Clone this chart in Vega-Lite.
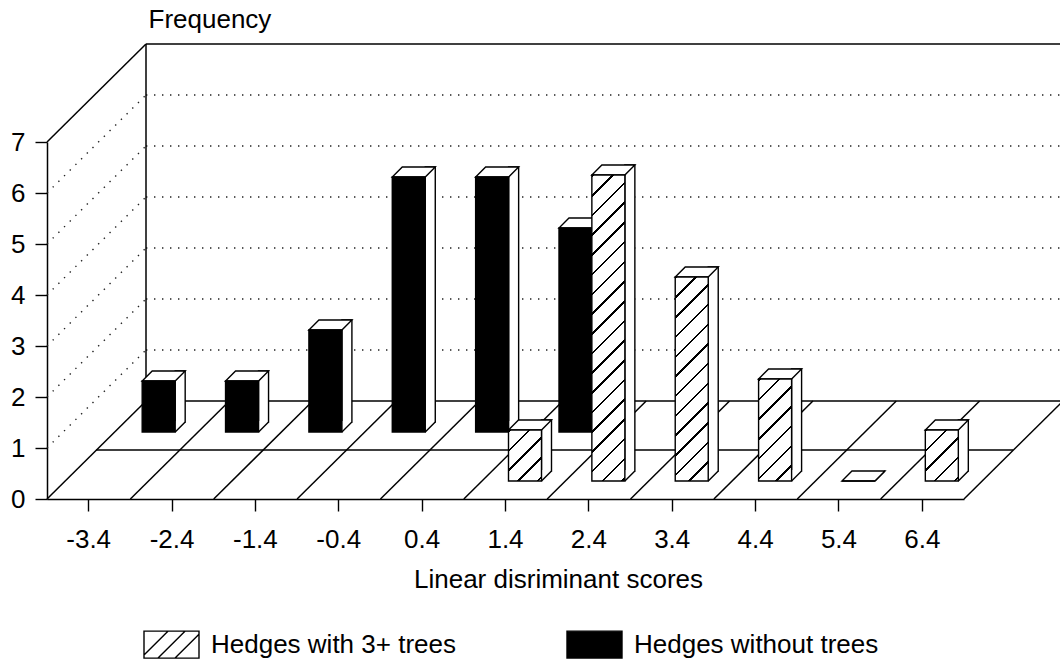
{
  "$schema": "https://vega.github.io/schema/vega-lite/v6.json",
  "width": 917,
  "height": 357,
  "autosize": {"type": "none"},
  "padding": {"left": 47, "top": 142, "right": 96, "bottom": 171},
  "background": "white",
  "config": {"view": {"stroke": null}, "font": "Liberation Sans"},
  "params": [
    {"name": "hatchStops", "value": [
      {"offset": 0, "color": "#000"}, {"offset": 0.0065, "color": "#000"}, {"offset": 0.0065, "color": "#fff"}, {"offset": 0.05, "color": "#fff"},
      {"offset": 0.05, "color": "#000"}, {"offset": 0.0565, "color": "#000"}, {"offset": 0.0565, "color": "#fff"}, {"offset": 0.1, "color": "#fff"},
      {"offset": 0.1, "color": "#000"}, {"offset": 0.1065, "color": "#000"}, {"offset": 0.1065, "color": "#fff"}, {"offset": 0.15, "color": "#fff"},
      {"offset": 0.15, "color": "#000"}, {"offset": 0.1565, "color": "#000"}, {"offset": 0.1565, "color": "#fff"}, {"offset": 0.2, "color": "#fff"},
      {"offset": 0.2, "color": "#000"}, {"offset": 0.2065, "color": "#000"}, {"offset": 0.2065, "color": "#fff"}, {"offset": 0.25, "color": "#fff"},
      {"offset": 0.25, "color": "#000"}, {"offset": 0.2565, "color": "#000"}, {"offset": 0.2565, "color": "#fff"}, {"offset": 0.3, "color": "#fff"},
      {"offset": 0.3, "color": "#000"}, {"offset": 0.3065, "color": "#000"}, {"offset": 0.3065, "color": "#fff"}, {"offset": 0.35, "color": "#fff"},
      {"offset": 0.35, "color": "#000"}, {"offset": 0.3565, "color": "#000"}, {"offset": 0.3565, "color": "#fff"}, {"offset": 0.4, "color": "#fff"},
      {"offset": 0.4, "color": "#000"}, {"offset": 0.4065, "color": "#000"}, {"offset": 0.4065, "color": "#fff"}, {"offset": 0.45, "color": "#fff"},
      {"offset": 0.45, "color": "#000"}, {"offset": 0.4565, "color": "#000"}, {"offset": 0.4565, "color": "#fff"}, {"offset": 0.5, "color": "#fff"},
      {"offset": 0.5, "color": "#000"}, {"offset": 0.5065, "color": "#000"}, {"offset": 0.5065, "color": "#fff"}, {"offset": 0.55, "color": "#fff"},
      {"offset": 0.55, "color": "#000"}, {"offset": 0.5565, "color": "#000"}, {"offset": 0.5565, "color": "#fff"}, {"offset": 0.6, "color": "#fff"},
      {"offset": 0.6, "color": "#000"}, {"offset": 0.6065, "color": "#000"}, {"offset": 0.6065, "color": "#fff"}, {"offset": 0.65, "color": "#fff"},
      {"offset": 0.65, "color": "#000"}, {"offset": 0.6565, "color": "#000"}, {"offset": 0.6565, "color": "#fff"}, {"offset": 0.7, "color": "#fff"},
      {"offset": 0.7, "color": "#000"}, {"offset": 0.7065, "color": "#000"}, {"offset": 0.7065, "color": "#fff"}, {"offset": 0.75, "color": "#fff"},
      {"offset": 0.75, "color": "#000"}, {"offset": 0.7565, "color": "#000"}, {"offset": 0.7565, "color": "#fff"}, {"offset": 0.8, "color": "#fff"},
      {"offset": 0.8, "color": "#000"}, {"offset": 0.8065, "color": "#000"}, {"offset": 0.8065, "color": "#fff"}, {"offset": 0.85, "color": "#fff"},
      {"offset": 0.85, "color": "#000"}, {"offset": 0.8565, "color": "#000"}, {"offset": 0.8565, "color": "#fff"}, {"offset": 0.9, "color": "#fff"},
      {"offset": 0.9, "color": "#000"}, {"offset": 0.9065, "color": "#000"}, {"offset": 0.9065, "color": "#fff"}, {"offset": 0.95, "color": "#fff"},
      {"offset": 0.95, "color": "#000"}, {"offset": 0.9565, "color": "#000"}, {"offset": 0.9565, "color": "#fff"}, {"offset": 1, "color": "#fff"}
    ]}
  ],
  "datasets": {
    "bars": [
      {"cat": "-3.4", "series": "Hedges without trees", "freq": 1},
      {"cat": "-2.4", "series": "Hedges without trees", "freq": 1},
      {"cat": "-1.4", "series": "Hedges without trees", "freq": 2},
      {"cat": "-0.4", "series": "Hedges without trees", "freq": 5},
      {"cat": "0.4", "series": "Hedges without trees", "freq": 5},
      {"cat": "1.4", "series": "Hedges without trees", "freq": 4},
      {"cat": "1.4", "series": "Hedges with 3+ trees", "freq": 1},
      {"cat": "2.4", "series": "Hedges with 3+ trees", "freq": 6},
      {"cat": "3.4", "series": "Hedges with 3+ trees", "freq": 4},
      {"cat": "4.4", "series": "Hedges with 3+ trees", "freq": 2},
      {"cat": "5.4", "series": "Hedges with 3+ trees", "freq": 0},
      {"cat": "6.4", "series": "Hedges with 3+ trees", "freq": 1}
    ],
    "cats": [
      {"cat": "-3.4"}, {"cat": "-2.4"}, {"cat": "-1.4"}, {"cat": "-0.4"}, {"cat": "0.4"}, {"cat": "1.4"},
      {"cat": "2.4"}, {"cat": "3.4"}, {"cat": "4.4"}, {"cat": "5.4"}, {"cat": "6.4"}
    ],
    "levels": [
      {"freq": 0}, {"freq": 1}, {"freq": 2}, {"freq": 3}, {"freq": 4}, {"freq": 5}, {"freq": 6}, {"freq": 7}
    ],
    "one": [{"k": 1}]
  },
  "layer": [
    {
      "data": {"name": "cats"},
      "mark": {"type": "rule", "color": "black", "strokeWidth": 1.5, "xOffset": -41.68, "x2Offset": 57.32, "y2Offset": -98},
      "encoding": {
        "x": {
          "field": "cat", "type": "nominal",
          "scale": {"domain": ["-3.4", "-2.4", "-1.4", "-0.4", "0.4", "1.4", "2.4", "3.4", "4.4", "5.4", "6.4"], "paddingInner": 0, "paddingOuter": 0},
          "axis": {
            "domain": true, "domainColor": "black", "domainWidth": 1.5,
            "ticks": true, "tickColor": "black", "tickSize": 12, "tickWidth": 1.4,
            "labelAngle": 0, "labelFont": "Liberation Sans", "labelFontSize": 26, "labelColor": "black", "labelPadding": 15,
            "grid": false,
            "title": "Linear disriminant scores", "titleFont": "Liberation Sans", "titleFontSize": 26, "titleFontWeight": "normal", "titleColor": "black",
            "titleX": 511, "titleY": 88, "titleAlign": "center", "titleBaseline": "alphabetic"
          }
        },
        "x2": {"field": "cat"},
        "y": {
          "datum": 0, "type": "quantitative",
          "scale": {"domain": [0, 7], "nice": false, "zero": true},
          "axis": {
            "values": [0, 1, 2, 3, 4, 5, 6, 7],
            "domain": true, "domainColor": "black", "domainWidth": 1.5,
            "ticks": true, "tickColor": "black", "tickSize": 12, "tickWidth": 1.4,
            "labelFont": "Liberation Sans", "labelFontSize": 26, "labelColor": "black", "labelPadding": 10,
            "grid": false,
            "title": "Frequency", "titleFont": "Liberation Sans", "titleFontSize": 26, "titleFontWeight": "normal", "titleColor": "black",
            "titleAngle": 0, "titleAlign": "left", "titleBaseline": "alphabetic", "titleX": 101, "titleY": -115
          }
        },
        "y2": {"datum": 0}
      }
    },
    {
      "data": {"name": "one"},
      "mark": {"type": "rule", "color": "black", "strokeWidth": 1.5, "xOffset": 41.68, "x2Offset": 140.68, "y2Offset": -98},
      "encoding": {
        "x": {"datum": "6.4", "type": "nominal"},
        "x2": {"datum": "6.4"},
        "y": {"datum": 0, "type": "quantitative"},
        "y2": {"datum": 0}
      }
    },
    {
      "data": {"name": "one"},
      "mark": {"type": "rule", "color": "black", "strokeWidth": 1.5, "xOffset": 7.32, "x2Offset": 90.68, "yOffset": -49},
      "encoding": {
        "x": {"datum": "-3.4", "type": "nominal"},
        "x2": {"datum": "6.4"},
        "y": {"datum": 0, "type": "quantitative"}
      }
    },
    {
      "data": {"name": "levels"},
      "transform": [{"filter": "datum.freq == 0 || datum.freq == 7"}],
      "mark": {"type": "rule", "color": "black", "strokeWidth": 1.5, "xOffset": 57.32, "x2Offset": 140.68, "yOffset": -98},
      "encoding": {
        "x": {"datum": "-3.4", "type": "nominal"},
        "x2": {"datum": "6.4"},
        "y": {"field": "freq", "type": "quantitative"}
      }
    },
    {
      "data": {"name": "levels"},
      "transform": [{"filter": "datum.freq >= 1 && datum.freq <= 6"}],
      "mark": {"type": "rule", "color": "#222", "strokeWidth": 1.4, "strokeDash": [1.4, 6.6], "xOffset": 57.32, "x2Offset": 140.68, "yOffset": -98},
      "encoding": {
        "x": {"datum": "-3.4", "type": "nominal"},
        "x2": {"datum": "6.4"},
        "y": {"field": "freq", "type": "quantitative"}
      }
    },
    {
      "data": {"name": "levels"},
      "transform": [{"filter": "datum.freq == 7"}],
      "mark": {"type": "rule", "color": "black", "strokeWidth": 1.5, "xOffset": -41.68, "x2Offset": 57.32, "y2Offset": -98},
      "encoding": {
        "x": {"datum": "-3.4", "type": "nominal"},
        "x2": {"datum": "-3.4"},
        "y": {"field": "freq", "type": "quantitative"},
        "y2": {"field": "freq"}
      }
    },
    {
      "data": {"name": "levels"},
      "transform": [{"filter": "datum.freq >= 1 && datum.freq <= 6"}],
      "mark": {"type": "rule", "color": "#222", "strokeWidth": 1.4, "strokeDash": [1.4, 6.6], "xOffset": -41.68, "x2Offset": 57.32, "y2Offset": -98},
      "encoding": {
        "x": {"datum": "-3.4", "type": "nominal"},
        "x2": {"datum": "-3.4"},
        "y": {"field": "freq", "type": "quantitative"},
        "y2": {"field": "freq"}
      }
    },
    {
      "data": {"name": "one"},
      "mark": {"type": "rule", "color": "black", "strokeWidth": 1.5, "xOffset": 57.32, "yOffset": -98, "y2Offset": -98},
      "encoding": {
        "x": {"datum": "-3.4", "type": "nominal"},
        "y": {"datum": 0, "type": "quantitative"},
        "y2": {"datum": 7}
      }
    },

    {
      "data": {"name": "bars"},
      "transform": [{"filter": "datum.series == 'Hedges without trees'"}],
      "mark": {"type": "bar", "width": 10, "fill": "white", "stroke": "black", "strokeWidth": 1.4, "xOffset": 91.5, "yOffset": -77, "y2Offset": -77},
      "encoding": {
        "x": {"field": "cat", "type": "nominal"},
        "y": {"field": "freq", "type": "quantitative"},
        "y2": {"datum": 0}
      }
    },
    {
      "data": {"name": "bars"},
      "transform": [{"filter": "datum.series == 'Hedges without trees'"}],
      "mark": {"type": "point", "shape": "M0,0L0,-11L9.3,-11L9.3,-9.3Z", "size": 4, "filled": true, "fill": "white", "strokeWidth": 0, "opacity": 1, "xOffset": 86.5, "yOffset": -67},
      "encoding": {
        "x": {"field": "cat", "type": "nominal"},
        "y": {"datum": 0, "type": "quantitative"}
      }
    },
    {
      "data": {"name": "bars"},
      "transform": [{"filter": "datum.series == 'Hedges without trees'"}],
      "mark": {"type": "rule", "color": "black", "strokeWidth": 1.4, "xOffset": 86.5, "x2Offset": 96.5, "yOffset": -67, "y2Offset": -77},
      "encoding": {
        "x": {"field": "cat", "type": "nominal"},
        "x2": {"field": "cat"},
        "y": {"datum": 0, "type": "quantitative"},
        "y2": {"datum": 0}
      }
    },
    {
      "data": {"name": "bars"},
      "transform": [{"filter": "datum.series == 'Hedges without trees'"}],
      "mark": {"type": "point", "shape": "M0,0L33,0L43,-10L10,-10Z", "size": 4, "filled": true, "fill": "white", "stroke": "black", "strokeWidth": 1.4, "opacity": 1, "xOffset": 53.5, "yOffset": -67},
      "encoding": {
        "x": {"field": "cat", "type": "nominal"},
        "y": {"field": "freq", "type": "quantitative"}
      }
    },
    {
      "data": {"name": "bars"},
      "transform": [{"filter": "datum.series == 'Hedges without trees'"}],
      "mark": {"type": "bar", "width": 33, "fill": "black", "stroke": "black", "strokeWidth": 1.4, "xOffset": 70, "yOffset": -67, "y2Offset": -67},
      "encoding": {
        "x": {"field": "cat", "type": "nominal"},
        "y": {"field": "freq", "type": "quantitative"},
        "y2": {"datum": 0}
      }
    },

    {
      "data": {"name": "bars"},
      "transform": [{"filter": "datum.series == 'Hedges with 3+ trees'"}],
      "mark": {"type": "bar", "width": 10, "fill": "white", "stroke": "black", "strokeWidth": 1.4, "xOffset": 41, "yOffset": -28, "y2Offset": -28},
      "encoding": {
        "x": {"field": "cat", "type": "nominal"},
        "y": {"field": "freq", "type": "quantitative"},
        "y2": {"datum": 0}
      }
    },
    {
      "data": {"name": "bars"},
      "transform": [{"filter": "datum.series == 'Hedges with 3+ trees'"}],
      "mark": {"type": "point", "shape": "M0,0L0,-11L9.3,-11L9.3,-9.3Z", "size": 4, "filled": true, "fill": "white", "strokeWidth": 0, "opacity": 1, "xOffset": 36, "yOffset": -18},
      "encoding": {
        "x": {"field": "cat", "type": "nominal"},
        "y": {"datum": 0, "type": "quantitative"}
      }
    },
    {
      "data": {"name": "bars"},
      "transform": [{"filter": "datum.series == 'Hedges with 3+ trees'"}],
      "mark": {"type": "rule", "color": "black", "strokeWidth": 1.4, "xOffset": 36, "x2Offset": 46, "yOffset": -18, "y2Offset": -28},
      "encoding": {
        "x": {"field": "cat", "type": "nominal"},
        "x2": {"field": "cat"},
        "y": {"datum": 0, "type": "quantitative"},
        "y2": {"datum": 0}
      }
    },
    {
      "data": {"name": "bars"},
      "transform": [{"filter": "datum.series == 'Hedges with 3+ trees'"}],
      "mark": {"type": "point", "shape": "M0,0L33,0L43,-10L10,-10Z", "size": 4, "filled": true, "fill": "white", "stroke": "black", "strokeWidth": 1.4, "opacity": 1, "xOffset": 3, "yOffset": -18},
      "encoding": {
        "x": {"field": "cat", "type": "nominal"},
        "y": {"field": "freq", "type": "quantitative"}
      }
    },
    {
      "data": {"name": "bars"},
      "transform": [{"filter": "datum.series == 'Hedges with 3+ trees'"}],
      "mark": {
        "type": "bar", "width": 33, "stroke": "black", "strokeWidth": 1.4, "xOffset": 19.5, "yOffset": -18, "y2Offset": -18,
        "fill": {"expr": "{gradient: 'linear', x1: 0, y1: 0, x2: 394*33/(1089 + pow(datum.freq*51, 2)), y2: 394*datum.freq*51/(1089 + pow(datum.freq*51, 2)), stops: hatchStops}"}
      },
      "encoding": {
        "x": {"field": "cat", "type": "nominal"},
        "y": {"field": "freq", "type": "quantitative"},
        "y2": {"datum": 0}
      }
    },

    {
      "data": {"name": "bars"},
      "mark": {"type": "point", "size": 0, "filled": true, "opacity": 1, "strokeWidth": 1.4},
      "encoding": {
        "x": {"field": "cat", "type": "nominal"},
        "y": {"field": "freq", "type": "quantitative"},
        "color": {
          "field": "series", "type": "nominal",
          "scale": {"domain": ["Hedges with 3+ trees", "Hedges without trees"], "range": ["white", "black"]},
          "legend": {
            "title": null, "orient": "none", "legendX": 96, "legendY": 474, "direction": "horizontal", "columns": 2, "columnPadding": 108,
            "symbolSize": 3025, "symbolStrokeWidth": 1.4, "symbolOpacity": 1,
            "labelFont": "Liberation Sans", "labelFontSize": 26, "labelColor": "black", "labelLimit": 400, "labelOffset": 11, "padding": 0
          }
        },
        "stroke": {
          "field": "series", "type": "nominal",
          "scale": {"domain": ["Hedges with 3+ trees", "Hedges without trees"], "range": ["black", "black"]},
          "legend": {
            "title": null, "orient": "none", "legendX": 96, "legendY": 474, "direction": "horizontal", "columns": 2, "columnPadding": 108,
            "symbolSize": 3025, "symbolStrokeWidth": 1.4, "symbolOpacity": 1,
            "labelFont": "Liberation Sans", "labelFontSize": 26, "labelColor": "black", "labelLimit": 400, "labelOffset": 11, "padding": 0
          }
        },
        "shape": {
          "field": "series", "type": "nominal",
          "scale": {"domain": ["Hedges with 3+ trees", "Hedges without trees"], "range": [
            "M-1,-0.49H1V0.49H-1Z M-1,0.38L-0.13,-0.49 M-0.49,0.49L0.49,-0.49 M0.13,0.49L1,-0.38",
            "M-1,-0.49H1V0.49H-1Z"
          ]},
          "legend": {
            "title": null, "orient": "none", "legendX": 96, "legendY": 474, "direction": "horizontal", "columns": 2, "columnPadding": 108,
            "symbolSize": 3025, "symbolStrokeWidth": 1.4, "symbolOpacity": 1,
            "labelFont": "Liberation Sans", "labelFontSize": 26, "labelColor": "black", "labelLimit": 400, "labelOffset": 11, "padding": 0
          }
        }
      }
    }
  ]
}
